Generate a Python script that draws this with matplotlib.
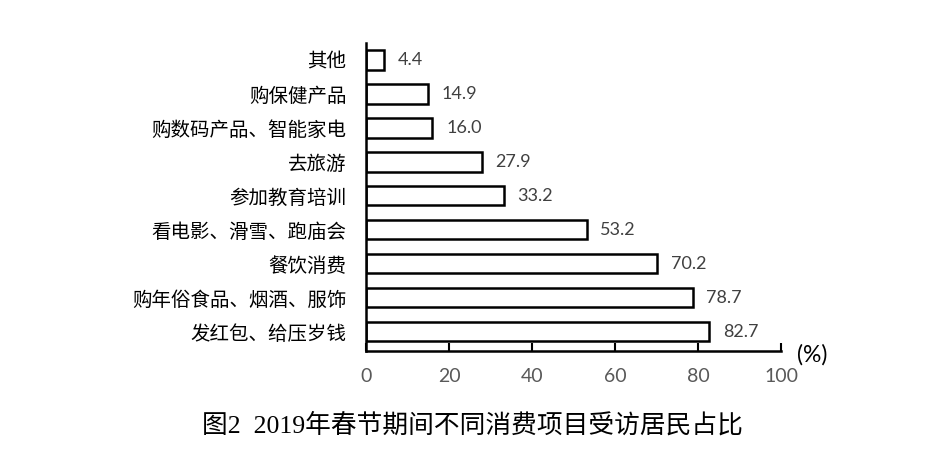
import matplotlib.pyplot as plt

categories = ["发红包、给压岁钱", "购年俗食品、烟酒、服饰", "餐饮消费", "看电影、滑雪、跑庙会",
              "参加教育培训", "去旅游", "购数码产品、智能家电", "购保健产品", "其他"]
values = [82.7, 78.7, 70.2, 53.2, 33.2, 27.9, 16.0, 14.9, 4.4]
xticks = [0, 20, 40, 60, 80, 100]

W, H = 929, 463
fig = plt.figure(figsize=(W / 100, H / 100), dpi=100)
ax = fig.add_axes([366 / W, 1 - 351 / H, (781 - 366) / W, (351 - 43) / H])

pos = range(len(categories))
ax.barh(pos, values, height=0.56, color="white", edgecolor="black", linewidth=1.8)

for y, v in zip(pos, values):
    ax.text(v + 3.3, y, f"{v:.1f}", va="center", ha="left", fontsize=13,
            family=["Lato", "DejaVu Sans"], color="#404040")

ax.set_xlim(0, 100)
ax.set_ylim(-0.56, 8.5)
ax.set_xticks(xticks)
ax.set_xticklabels([str(t) for t in xticks], family=["Lato", "DejaVu Sans"],
                   fontsize=14, color="#595959")
ax.set_yticks(list(pos))
ax.set_yticklabels(categories, family=["Noto Sans CJK SC", "DejaVu Sans"],
                   fontsize=14, color="black")
ax.tick_params(axis="x", direction="in", length=6, width=1.5, pad=12)
ax.tick_params(axis="y", length=0, pad=14)

for s in ["top", "right"]:
    ax.spines[s].set_visible(False)
ax.spines["left"].set_linewidth(1.8)
ax.spines["bottom"].set_linewidth(1.8)

fig.text(797 / W, 1 - 355 / H, "(%)", ha="left", va="center", fontsize=16.5,
         family=["Lato", "DejaVu Sans"], color="black")

fig.text(472 / W, 1 - 425 / H, "图2  2019年春节期间不同消费项目受访居民占比",
         ha="center", va="center", fontsize=18.5,
         family=["Liberation Serif", "Noto Sans CJK SC"], color="black")

fig.savefig("out.png", dpi=100)
